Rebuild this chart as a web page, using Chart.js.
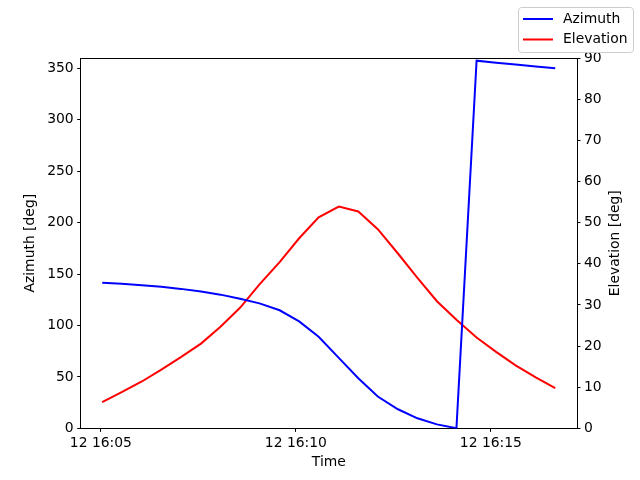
<!DOCTYPE html>
<html>
<head>
<meta charset="utf-8">
<script src="https://cdn.jsdelivr.net/npm/chart.js@4.4.1/dist/chart.umd.min.js"></script>
<style>
  html, body { margin: 0; padding: 0; background: #fff; }
  #wrap { width: 640px; height: 480px; position: relative; }
</style>
</head>
<body>
<div id="wrap"><canvas id="c"></canvas></div>
<script>
// Pass samples (time of day, day 12)
const times = [
  '16:05:02', '16:05:32', '16:06:03', '16:06:33', '16:07:03', '16:07:34',
  '16:08:04', '16:08:34', '16:09:04', '16:09:35', '16:10:05', '16:10:35',
  '16:11:06', '16:11:36', '16:12:06', '16:12:37', '16:13:07', '16:13:37',
  '16:14:07', '16:14:38', '16:15:08', '16:15:38', '16:16:09', '16:16:39',
];
const azimuth = [
  141.6, 140.5, 139.2, 137.6, 135.6, 133.0, 130.0, 126.0, 121.5, 114.8, 104.0, 89.0,
  68.5, 48.8, 31.0, 18.6, 9.8, 3.9, 0.2, 357.4, 355.3, 353.6, 351.8, 350.0,
];
const elevation = [
  6.4, 8.8, 11.4, 14.3, 17.3, 20.6, 24.7, 29.3, 35.0, 40.4, 46.2, 51.3,
  53.9, 52.7, 48.4, 42.5, 36.6, 30.9, 26.4, 22.1, 18.6, 15.3, 12.4, 9.8,
];
const timeTicks = ['16:05', '16:10', '16:15'];
const azTicks = [0, 50, 100, 150, 200, 250, 300, 350];
const elTicks = [0, 10, 20, 30, 40, 50, 60, 70, 80, 90];

const FONT = 'DejaVu Sans';
const FS = 13.9;

// minutes after 16:00
function toMin(s) {
  const [h, m, sec] = s.split(':').map(Number);
  return (h - 16) * 60 + m + (sec || 0) / 60;
}
function minLabel(v) {
  const m = Math.round(v);
  return '12 16:' + String(m).padStart(2, '0');
}

const xs = times.map(toMin);
const axisCommon = {
  border: { display: true, color: '#000', width: 1 },
  grid: { display: true, drawOnChartArea: false, drawTicks: true, tickLength: 3.5, color: '#000', lineWidth: 1 },
  ticks: { color: '#000', padding: 3.5, font: { family: FONT, size: FS } },
};

const frame = {
  id: 'frame',
  afterDraw(chart) {
    const { ctx, chartArea: a } = chart;
    ctx.save();
    ctx.strokeStyle = '#000';
    ctx.lineWidth = 1;
    ctx.beginPath();
    ctx.moveTo(a.left, a.top + 0.5);
    ctx.lineTo(a.right, a.top + 0.5);
    ctx.stroke();

    // axis titles
    ctx.fillStyle = '#000';
    ctx.font = `${FS}px "${FONT}"`;
    ctx.textAlign = 'center';
    ctx.textBaseline = 'middle';
    ctx.fillText('Time', (a.left + a.right) / 2, 462);
    const midY = (a.top + a.bottom) / 2;
    [['Azimuth [deg]', 30], ['Elevation [deg]', 615]].forEach(([t, x]) => {
      ctx.save();
      ctx.translate(x, midY);
      ctx.rotate(-Math.PI / 2);
      ctx.fillText(t, 0, 0);
      ctx.restore();
    });

    // figure legend, upper right
    const bx = 518, by = 7, bw = 115, bh = 45, r = 3;
    ctx.beginPath();
    ctx.roundRect(bx + 0.5, by + 0.5, bw, bh, r);
    ctx.fillStyle = 'rgba(255,255,255,0.8)';
    ctx.fill();
    ctx.strokeStyle = '#cccccc';
    ctx.stroke();
    chart.data.datasets.forEach((ds, i) => {
      const y = 19 + i * 20.5;
      ctx.strokeStyle = ds.borderColor;
      ctx.lineWidth = 2;
      ctx.beginPath();
      ctx.moveTo(523, y);
      ctx.lineTo(553, y);
      ctx.stroke();
      ctx.fillStyle = '#000';
      ctx.textAlign = 'left';
      ctx.fillText(ds.label, 563, y);
    });
    ctx.restore();
  },
};

new Chart(document.getElementById('c'), {
  type: 'line',
  data: {
    datasets: [
      { label: 'Azimuth', data: xs.map((x, i) => ({ x, y: azimuth[i] })), borderColor: '#0000ff', borderWidth: 2, pointRadius: 0, yAxisID: 'y', tension: 0 },
      { label: 'Elevation', data: xs.map((x, i) => ({ x, y: elevation[i] })), borderColor: '#ff0000', borderWidth: 2, pointRadius: 0, yAxisID: 'y1', tension: 0 },
    ],
  },
  options: {
    responsive: true,
    maintainAspectRatio: false,
    devicePixelRatio: 1,
    animation: false,
    layout: { padding: { top: 58, left: 0, right: 0, bottom: 0 } },
    plugins: { legend: { display: false }, tooltip: { enabled: false } },
    scales: {
      x: {
        ...axisCommon,
        type: 'linear',
        min: 4.482,
        max: 17.208,
        afterBuildTicks: s => { s.ticks = timeTicks.map(t => ({ value: toMin(t) })); },
        afterFit: s => { s.height = 51.6; },
        ticks: { ...axisCommon.ticks, maxRotation: 0, callback: v => minLabel(v) },
      },
      y: {
        ...axisCommon,
        position: 'left',
        min: 0,
        max: 360,
        afterBuildTicks: s => { s.ticks = azTicks.map(v => ({ value: v })); },
        afterFit: s => { s.width = 80.7; },
      },
      y1: {
        ...axisCommon,
        position: 'right',
        min: 0,
        max: 90,
        afterBuildTicks: s => { s.ticks = elTicks.map(v => ({ value: v })); },
        afterFit: s => { s.width = 63; },
      },
    },
  },
  plugins: [frame],
});
</script>
</body>
</html>
